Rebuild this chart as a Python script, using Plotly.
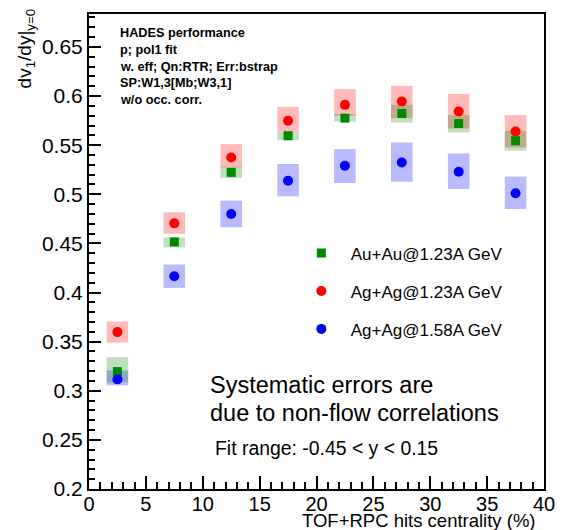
import plotly.graph_objects as go

# ---- data ----
centrality = [2.5, 7.5, 12.5, 17.5, 22.5, 27.5, 32.5, 37.5]

auau123 = [0.3195, 0.4515, 0.5223, 0.5596, 0.5775, 0.5822, 0.5720, 0.5545]
auau123_sys_lo = [0.3085, 0.4460, 0.5166, 0.5550, 0.5738, 0.5730, 0.5629, 0.5443]
auau123_sys_hi = [0.3342, 0.4560, 0.5280, 0.5640, 0.5816, 0.5910, 0.5806, 0.5646]

agag123 = [0.3597, 0.4704, 0.5375, 0.5748, 0.5910, 0.5944, 0.5843, 0.5639]
agag123_sys_lo = [0.3490, 0.4597, 0.5273, 0.5640, 0.5800, 0.5775, 0.5670, 0.5477]
agag123_sys_hi = [0.3705, 0.4816, 0.5510, 0.5890, 0.6070, 0.6104, 0.6020, 0.5806]

agag158 = [0.3116, 0.4166, 0.4800, 0.5138, 0.5290, 0.5324, 0.5230, 0.5010]
agag158_sys_lo = [0.3055, 0.4047, 0.4664, 0.4979, 0.5115, 0.5128, 0.5054, 0.4850]
agag158_sys_hi = [0.3207, 0.4285, 0.4935, 0.5308, 0.5460, 0.5527, 0.5416, 0.5180]

x_ticks = [0, 5, 10, 15, 20, 25, 30, 35, 40]
y_ticks = [0.2, 0.25, 0.3, 0.35, 0.4, 0.45, 0.5, 0.55, 0.6, 0.65]

info_lines = ["HADES performance", "p; pol1 fit", "w. eff; Qn:RTR; Err:bstrap",
              "SP:W1,3[Mb;W3,1]", "w/o occ. corr."]

FONT = "Liberation Sans, Arial, Helvetica, sans-serif"

fig = go.Figure()

def sys_boxes(lo, hi, color):
    fig.add_trace(go.Bar(
        x=centrality, base=lo, y=[h - l for h, l in zip(hi, lo)],
        width=1.9, marker=dict(color=color, line=dict(width=0)),
        showlegend=False, hoverinfo="skip"))

sys_boxes(agag158_sys_lo, agag158_sys_hi, "rgba(0,0,255,0.27)")
sys_boxes(agag123_sys_lo, agag123_sys_hi, "rgba(255,0,0,0.27)")
sys_boxes(auau123_sys_lo, auau123_sys_hi, "rgba(0,128,0,0.25)")

PAD = "&nbsp;&nbsp;"
fig.add_trace(go.Scatter(x=centrality, y=agag123, mode="markers", name=PAD + "Ag+Ag@1.23A GeV",
                         marker=dict(symbol="circle", size=10, color="#ff0000"), legend="legend2"))
fig.add_trace(go.Scatter(x=centrality, y=auau123, mode="markers", name=PAD + "Au+Au@1.23A GeV",
                         marker=dict(symbol="square", size=9, color="#008800"), legend="legend"))
fig.add_trace(go.Scatter(x=centrality, y=agag158, mode="markers", name=PAD + "Ag+Ag@1.58A GeV",
                         marker=dict(symbol="circle", size=10, color="#0000ff"), legend="legend3"))

def pxx(p):  # pixel x -> paper
    return (p - 89) / 465.0

def pxy(p):  # pixel y -> paper
    return (489 - p) / 476.0

leg_common = dict(bgcolor="rgba(0,0,0,0)", font=dict(family=FONT, size=17, color="black"),
                  xanchor="left", yanchor="middle", borderwidth=0)
fig.update_layout(
    legend=dict(x=pxx(306), y=pxy(253), **leg_common),
    legend2=dict(x=pxx(306), y=pxy(291), **leg_common),
    legend3=dict(x=pxx(306), y=pxy(329), **leg_common),
)

fig.update_layout(
    width=567, height=530,
    margin=dict(l=89, r=13, t=13, b=41),
    paper_bgcolor="white", plot_bgcolor="white",
    barmode="overlay",
    font=dict(family=FONT, color="black"),
    xaxis=dict(range=[0, 40], tickvals=x_ticks, ticks="inside", ticklen=13, tickwidth=1.5,
               tickcolor="black", showline=True, linecolor="black", linewidth=2, mirror=True,
               showgrid=False, zeroline=False, tickfont=dict(size=20, family=FONT),
               ticklabelstandoff=-4,
               minor=dict(dtick=1, ticks="inside", ticklen=7, tickwidth=1.5, tickcolor="black", showgrid=False)),
    yaxis=dict(range=[0.2, 0.6835], tickvals=y_ticks, ticks="inside", ticklen=12, tickwidth=1.5,
               tickcolor="black", showline=True, linecolor="black", linewidth=2, mirror=True,
               showgrid=False, zeroline=False, tickfont=dict(size=21, family=FONT),
               minor=dict(dtick=0.01, tick0=0.2, ticks="inside", ticklen=6, tickwidth=1.5, tickcolor="black", showgrid=False)),
)

ann = []
for i, (line, yp) in enumerate(zip(info_lines, [32, 49, 66, 82, 99])):
    ann.append(dict(text="<b>%s</b>" % line, x=pxx(119), y=pxy(yp), xref="paper", yref="paper",
                    xanchor="left", yanchor="middle", showarrow=False,
                    font=dict(family=FONT, size=12.7, color="black")))
ann.append(dict(text="Systematic errors are", x=pxx(211), y=pxy(385), xref="paper", yref="paper",
                xanchor="left", yanchor="middle", showarrow=False, font=dict(family=FONT, size=23.5)))
ann.append(dict(text="due to non-flow correlations", x=pxx(211), y=pxy(413), xref="paper", yref="paper",
                xanchor="left", yanchor="middle", showarrow=False, font=dict(family=FONT, size=23.5)))
ann.append(dict(text="Fit range: -0.45 < y < 0.15", x=pxx(215.5), y=pxy(448), xref="paper", yref="paper",
                xanchor="left", yanchor="middle", showarrow=False, font=dict(family=FONT, size=19.4)))
ann.append(dict(text="TOF+RPC hits centrality (%)", x=pxx(548), y=pxy(521), xref="paper", yref="paper",
                xanchor="right", yanchor="middle", showarrow=False, font=dict(family=FONT, size=18.5)))
ann.append(dict(text="dv<sub>1</sub>/dy|<sub>y=0</sub>", x=pxx(25), y=pxy(5), xref="paper", yref="paper",
                xanchor="center", yanchor="top", textangle=-90, showarrow=False,
                font=dict(family=FONT, size=19)))
fig.update_layout(annotations=ann)

fig.write_html("out.html")
